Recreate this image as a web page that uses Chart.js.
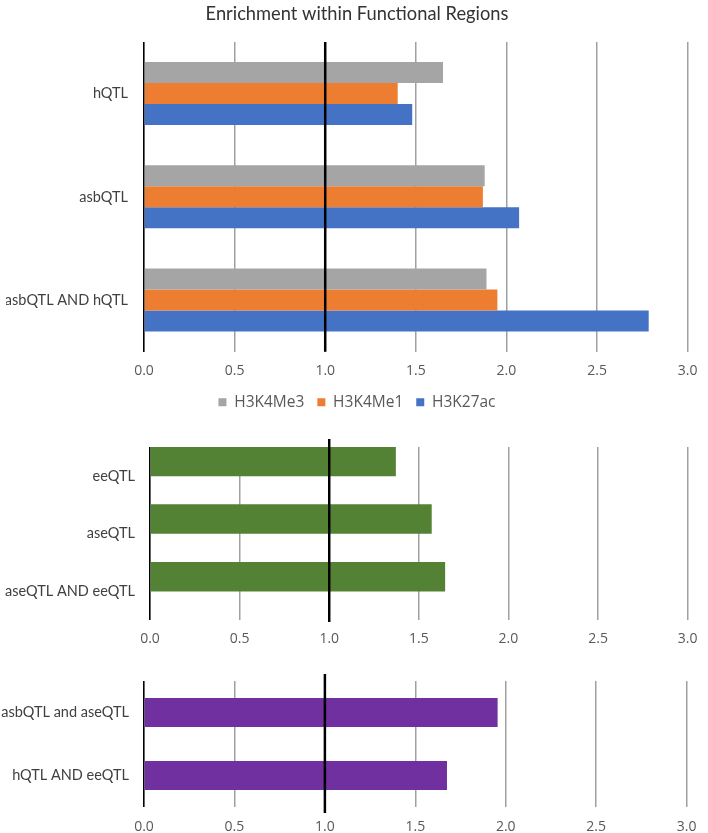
<!DOCTYPE html>
<html><head><meta charset="utf-8">
<script src="https://cdn.jsdelivr.net/npm/chart.js@4.4.1/dist/chart.umd.min.js"></script>
<style>
body{margin:0;background:#fff;width:708px;height:833px;overflow:hidden;position:relative}
.p{position:absolute;left:0;width:708px}
</style></head><body>
<div class="p" style="top:0;height:420px"><canvas id="c1"></canvas></div>
<div class="p" style="top:430px;height:220px"><canvas id="c2"></canvas></div>
<div class="p" style="top:655px;height:178px"><canvas id="c3"></canvas></div>
<script>
// ---- data ----
const histCategories = ['hQTL', 'asbQTL', 'asbQTL AND hQTL'];
const h3k4me3 = [1.65, 1.88, 1.89];
const h3k4me1 = [1.40, 1.87, 1.95];
const h3k27ac = [1.48, 2.07, 2.785];
const eqtlCategories = ['eeQTL', 'aseQTL', 'aseQTL AND eeQTL'];
const eqtlValues = [1.37, 1.57, 1.645];
const crossCategories = ['asbQTL and aseQTL', 'hQTL AND eeQTL'];
const crossValues = [1.955, 1.675];
const xMin = 0, xMax = 3, xStep = 0.5;
const refValue = 1.0;

const COL = {grey:'#a5a5a5', orange:'#ed7d31', blue:'#4472c4', green:'#548235', purple:'#7030a0'};

const refLine = {
  id: 'refLine',
  afterDatasetsDraw(chart, args, opts) {
    const {ctx, chartArea, scales} = chart;
    const x = scales.x.getPixelForValue(refValue);
    ctx.save();
    ctx.strokeStyle = '#000';
    ctx.lineWidth = 2.5;
    ctx.beginPath();
    ctx.moveTo(x, chartArea.top - (opts.extTop || 0));
    ctx.lineTo(x, chartArea.bottom + (opts.extBottom || 0));
    ctx.stroke();
    ctx.restore();
  }
};
Chart.register(refLine);

function xScale(pad, h) {
  return {
    type: 'linear', min: xMin, max: xMax,
    border: {display: false},
    grid: {
      drawTicks: false,
      color: c => (c.tick && c.tick.value === 0) ? '#000' : '#a0a0a0',
      lineWidth: c => (c.tick && c.tick.value === 0) ? 1.6 : 1.5
    },
    ticks: {
      stepSize: xStep, padding: pad, color: '#595959',
      font: {family: 'Open Sans', size: 14},
      callback: v => Number(v).toFixed(1)
    },
    afterFit: s => { s.height = h; }
  };
}
function yScale(w, pad) {
  return {
    type: 'category',
    border: {display: false},
    grid: {display: false, drawTicks: false},
    ticks: {padding: pad, color: '#404040', font: {family: 'Lato', size: 14.5}},
    afterFit: s => { s.width = w; s.paddingTop = 0; s.paddingBottom = 0; }
  };
}
function spacer(w) {
  return {
    type: 'category', position: 'right', display: true,
    border: {display: false},
    grid: {display: false, drawTicks: false},
    ticks: {display: false},
    afterFit: s => { s.width = w; s.paddingTop = 0; s.paddingBottom = 0; }
  };
}
const common = {
  indexAxis: 'y', responsive: true, maintainAspectRatio: false, animation: false,
  events: []
};

new Chart(document.getElementById('c1'), {
  type: 'bar',
  data: {
    labels: histCategories,
    datasets: [
      {label: 'H3K4Me3', data: h3k4me3, backgroundColor: COL.grey},
      {label: 'H3K4Me1', data: h3k4me1, backgroundColor: COL.orange},
      {label: 'H3K27ac', data: h3k27ac, backgroundColor: COL.blue}
    ]
  },
  options: Object.assign({}, common, {
    datasets: {bar: {categoryPercentage: 0.61, barPercentage: 1.0}},
    layout: {padding: {left: 6, right: 0, top: 0, bottom: 0}},
    scales: {x: xScale(10.5, 29.8), y: yScale(138, 16), y2: spacer(19)},
    plugins: {
      refLine: {extTop: 0, extBottom: 0},
      tooltip: {enabled: false},
      title: {display: true, text: 'Enrichment within Functional Regions',
        color: '#333', font: {family: 'Lato', size: 18.3, weight: 'normal'},
        padding: {top: 3.5, bottom: 16.5}},
      legend: {position: 'bottom',
        labels: {boxWidth: 8, boxHeight: 8, padding: 13, color: '#595959',
          font: {family: 'Open Sans', size: 15.5}}}
    }
  })
});

new Chart(document.getElementById('c2'), {
  type: 'bar',
  data: {
    labels: eqtlCategories,
    datasets: [
      {label: 'enrichment', data: eqtlValues, backgroundColor: COL.green},
      {label: '', data: eqtlValues.map(() => null), backgroundColor: 'rgba(0,0,0,0)'}
    ]
  },
  options: Object.assign({}, common, {
    datasets: {bar: {categoryPercentage: 1.0, barPercentage: 1.0}},
    layout: {padding: {left: 0, right: 18, top: 17, bottom: 0}},
    scales: {x: xScale(10.5, 30), y: yScale(150, 15)},
    plugins: {
      refLine: {extTop: 8, extBottom: 2},
      tooltip: {enabled: false}, legend: {display: false}, title: {display: false}
    }
  })
});

new Chart(document.getElementById('c3'), {
  type: 'bar',
  data: {
    labels: crossCategories,
    datasets: [
      {label: 'enrichment', data: crossValues, backgroundColor: COL.purple}
    ]
  },
  options: Object.assign({}, common, {
    datasets: {bar: {categoryPercentage: 0.46, barPercentage: 1.0}},
    layout: {padding: {left: 0, right: 14, top: 26, bottom: 0}},
    scales: {x: xScale(11.5, 26), y: yScale(144, 15)},
    plugins: {
      refLine: {extTop: 7, extBottom: 6},
      tooltip: {enabled: false}, legend: {display: false}, title: {display: false}
    }
  })
});
</script>
</body></html>
